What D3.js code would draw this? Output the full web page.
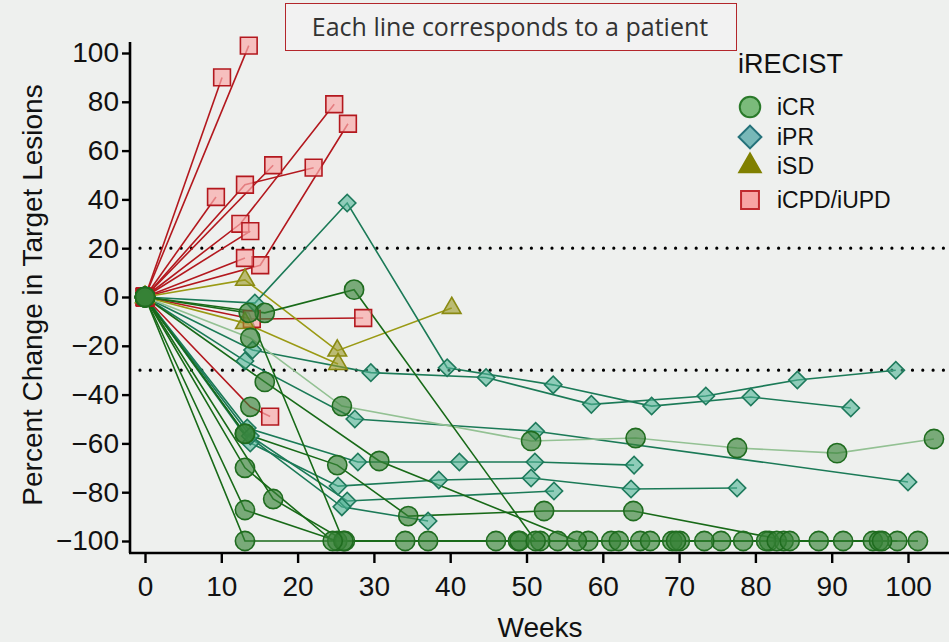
<!DOCTYPE html>
<html>
<head>
<meta charset="utf-8">
<script src="https://cdn.jsdelivr.net/npm/d3@7"></script>
<style>
  body { margin: 0; background: #eef0ee; }
  svg { display: block; }
</style>
</head>
<body>
<script>
// best iRECIST response of each patient (colours the line)
const lineResp = [
  "PD","PD","PD","PD","PD","PD","PD","PD","PD","PD","PD",
  "SD","SD",
  "PR","PR","PR","PR","PR","PR","PR",
  "CRlight",
  "CR","CR","CR","CR","CR","CR","CR","CR"
];
// weeks of each assessment
const lineWeeks = [
  [0,13.6],[0,10.1],[0,12.5,24.8],[0,15.1,26.6],[0,9.3],[0,13.1,22.1],[0,16.8],[0,13.8],[0,13.1],[0,14,28.6],[0,13.8,16.4],
  [0,13.1,25.2,40.2],[0,13.1,25.3],
  [0,14.4,26.5,39.6,53.5,66.4,79.4,92.5],
  [0,14.1,29.6,44.7,58.5,73.5,85.5,98.4],
  [0,13.1,27.5,51.2,100],
  [0,13.4,27.9,41.2,51.1,64.1],
  [0,13.8,25.3,38.5,50.6,63.7,77.6],
  [0,13.8,26.5,53.6],
  [0,13.1,25.8,37.1],
  [0,13.8,25.8,50.6,64.3,77.6,90.7,103.4],
  [0,13.1,34.1,46,54.1,61.1,69.1,75.5,81.8,88.3,95.4,101.3],
  [0,13.1,25.2,37.1,48.9,58.1,64.9,70.1,78.4,83.7,91.5,98.6],
  [0,16.8,26.2,49.1,51.8,62.1,69.6,73.3,81.4,96.2],
  [0,15.7,27.4,51.2,66.2,82.8,96.6],
  [0,13.6,26],
  [0,15.7,30.7,56.6],
  [0,13.1,24.6],
  [0,13.1,25.2,34.5,52.3,64,84.5]
];
// percent change in target lesions
const linePct = [
  [0,103],[0,90],[0,30,79],[0,13,71],[0,41],[0,46,53],[0,54],[0,27],[0,16],[0,-9,-8.6],[0,-45,-49],
  [0,7,-22,-4.5],[0,-10.7,-27.5],
  [0,-2.5,38.5,-29,-36,-44.7,-41,-45.5],
  [0,-21.7,-31,-33,-44,-40.6,-34,-30],
  [0,-26.2,-50,-55,-75.8],
  [0,-53.7,-67.6,-67.6,-67.6,-68.9],
  [0,-59.8,-77.5,-75,-74.2,-78.7,-78.3],
  [0,-57,-83.6,-79.5],
  [0,-56,-86,-91.8],
  [0,-16.8,-44.7,-59,-57.8,-61.9,-64,-58.2],
  [0,-100,-100,-100,-100,-100,-100,-100,-100,-100,-100,-100],
  [0,-87.3,-100,-100,-100,-100,-100,-100,-100,-100,-100,-100],
  [0,-82.8,-100,-100,-100,-100,-100,-100,-100,-100],
  [0,-6.5,3,-100,-100,-100,-100],
  [0,-6.5,-100],
  [0,-34.8,-67.2,-100],
  [0,-70,-100],
  [0,-56.1,-68.9,-89.8,-87.7,-87.7,-100]
];
// response at each assessment: C=iCR, D=iPR, T=iSD, S=iCPD/iUPD
const lineMarks = [
  "SS","SS","SSS","SSS","SS","SSS","SS","SS","SS","SSS","SCS",
  "TTTT","TTT",
  "DDDDDDDD","DDDDDDDD","DDDDD","DDDDDD","DDDDDDD","DDDD","CCDD",
  "CCCCCCCC",
  "CCCCCCCCCCCC","CCCCCCCCCCCC","CCCCCCCCCC","CCCCCCC","CCC","CCCC","CCC","CCCCCCC"
];
const xTicks = [0,10,20,30,40,50,60,70,80,90,100];
const yTicks = [100,80,60,40,20,0,-20,-40,-60,-80,-100];
const refLines = [20,-30];
const legendKeys = ["C","D","T","S"];
const legendNames = ["iCR","iPR","iSD","iCPD/iUPD"];

const W = 949, H = 642;
const lineColor = {PD:"#b3181e", SD:"#9a9a14", PR:"#1b7a57", CRlight:"#93c193", CR:"#186a18"};
const markStyle = {
  C: {type: d3.symbolCircle, size: 290, fill: "rgba(55,130,55,0.64)", stroke: "#1f6c1f", rot: 0},
  D: {type: d3.symbolSquare, size: 150, fill: "rgba(80,180,150,0.6)", stroke: "#1e7a5c", rot: 45},
  T: {type: d3.symbolTriangle, size: 150, fill: "rgba(155,155,40,0.62)", stroke: "#8a8a12", rot: 0},
  S: {type: d3.symbolSquare, size: 280, fill: "rgba(250,170,170,0.7)", stroke: "#b3181e", rot: 0}
};
const legendStyle = {
  C: {fill: "#7bbb7b", stroke: "#2a7a2a", size: 330},
  D: {fill: "#78b8b8", stroke: "#25727a", size: 260},
  T: {fill: "#808000", stroke: "#808000", size: 200},
  S: {fill: "#f7a3a3", stroke: "#c0282d", size: 320}
};

const x = d3.scaleLinear().domain([0, 100]).range([145, 908]);
const y = d3.scaleLinear().domain([-100, 100]).range([541, 53]);

const svg = d3.select("body").append("svg").attr("width", W).attr("height", H);
svg.append("rect").attr("width", W).attr("height", H).attr("fill", "#eef0ee");

// reference lines
svg.selectAll(".ref").data(refLines).enter().append("line")
  .attr("x1", 140).attr("x2", W)
  .attr("y1", d => y(d)).attr("y2", d => y(d))
  .attr("stroke", "#000").attr("stroke-width", 3.2)
  .attr("stroke-linecap", "round").attr("stroke-dasharray", "0 10.3");

// patient lines
const patients = lineResp.map((r, i) => ({
  resp: r,
  pts: lineWeeks[i].map((w, j) => ({w: w, p: linePct[i][j], m: lineMarks[i][j]}))
}));
const line = d3.line().x(d => x(d.w)).y(d => y(d.p));
svg.selectAll(".pline").data(patients).enter().append("path")
  .attr("d", d => line(d.pts))
  .attr("fill", "none")
  .attr("stroke", d => lineColor[d.resp])
  .attr("stroke-width", 1.6);

const sym = d3.symbol();
const marks = patients.flatMap(p => p.pts);
svg.selectAll(".mk").data(marks).enter().append("path")
  .attr("d", d => sym.type(markStyle[d.m].type).size(markStyle[d.m].size)())
  .attr("transform", d => `translate(${x(d.w)},${y(d.p)}) rotate(${markStyle[d.m].rot})`)
  .attr("fill", d => markStyle[d.m].fill)
  .attr("stroke", d => markStyle[d.m].stroke)
  .attr("stroke-width", 1.6);

// axes
const font = "Liberation Sans, Arial, sans-serif";
const yAxis = svg.append("g").attr("transform", "translate(130,0)")
  .call(d3.axisLeft(y).tickValues(yTicks).tickSize(8).tickPadding(3));
yAxis.select(".domain").attr("d", `M0,42V553`).attr("stroke-width", 2.6);
const xAxis = svg.append("g").attr("transform", "translate(0,553)")
  .call(d3.axisBottom(x).tickValues(xTicks).tickSize(10).tickPadding(13));
xAxis.select(".domain").attr("d", `M129,0H${W}`).attr("stroke-width", 2.6);
svg.selectAll(".tick line").attr("stroke-width", 2.4);
svg.selectAll(".tick text").attr("font-family", font).attr("font-size", 28).attr("fill", "#111");

svg.append("text").attr("x", 540).attr("y", 637).attr("text-anchor", "middle")
  .attr("font-family", font).attr("font-size", 28).attr("fill", "#111").text("Weeks");
svg.append("text").attr("transform", "translate(42,295) rotate(-90)").attr("text-anchor", "middle")
  .attr("font-family", font).attr("font-size", 28).attr("fill", "#111")
  .text("Percent Change in Target Lesions");

// note box
svg.append("rect").attr("x", 285.5).attr("y", 3.5).attr("width", 451).attr("height", 47)
  .attr("fill", "#f2f2f2").attr("stroke", "#b3262b").attr("stroke-width", 1);
svg.append("text").attr("x", 510).attr("y", 36).attr("text-anchor", "middle")
  .attr("font-family", "Open Sans, Noto Sans, sans-serif").attr("font-size", 25).attr("fill", "#333")
  .text("Each line corresponds to a patient");

// legend
const lg = svg.append("g").attr("transform", "translate(738,0)");
lg.append("text").attr("x", 0).attr("y", 73).attr("font-family", font).attr("font-size", 27)
  .attr("fill", "#111").text("iRECIST");
const legY = [107, 137, 166, 200];
legendKeys.forEach((k, i) => {
  lg.append("path")
    .attr("d", sym.type(markStyle[k].type).size(legendStyle[k].size)())
    .attr("transform", `translate(12,${legY[i]}) rotate(${markStyle[k].rot})`)
    .attr("fill", legendStyle[k].fill).attr("stroke", legendStyle[k].stroke).attr("stroke-width", 2);
  lg.append("text").attr("x", 39).attr("y", legY[i] + 8).attr("font-family", font)
    .attr("font-size", 23).attr("fill", "#111").text(legendNames[i]);
});
</script>
</body>
</html>
